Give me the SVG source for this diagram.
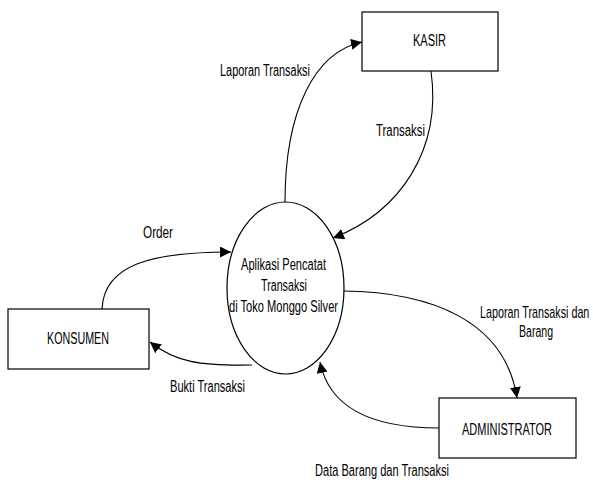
<svg xmlns="http://www.w3.org/2000/svg" width="593" height="480" viewBox="0 0 593 480">
<style>
.box{fill:#fff;stroke:#000;stroke-width:1.2}
.proc{fill:#fff;stroke:#000;stroke-width:1.2}
.flow{fill:none;stroke:#000;stroke-width:1.1;marker-end:url(#ah)}
text{font-family:"Liberation Sans",Arial,sans-serif;font-size:16px;fill:#000}
</style>
<defs>
<marker id="ah" viewBox="0 0 10 10" refX="10" refY="5" markerWidth="11" markerHeight="11" markerUnits="userSpaceOnUse" orient="auto">
<path d="M0,0 L10,5 L0,10 z" fill="#000"/>
</marker>
</defs>
<rect width="593" height="480" fill="#fff"/>
<g id="connectors">
<path class="flow" d="M285,202 C285,110 315,52 362,42"/>
<path class="flow" d="M431,71 C442,150 400,212 333,238"/>
<path class="flow" d="M102,309 C104,265 150,252 231,252"/>
<path class="flow" d="M252,365 C200,366 175,362 150,342"/>
<path class="flow" d="M343,291 C430,292 505,320 517,398"/>
<path class="flow" d="M439,428 C380,428 330,412 320,362"/>
<text x="220" y="76" textLength="90" lengthAdjust="spacingAndGlyphs">Laporan Transaksi</text>
<text x="376" y="136" textLength="49" lengthAdjust="spacingAndGlyphs">Transaksi</text>
<text x="143" y="238" textLength="30" lengthAdjust="spacingAndGlyphs">Order</text>
<text x="170" y="392" textLength="75" lengthAdjust="spacingAndGlyphs">Bukti Transaksi</text>
<text transform="translate(480,318) scale(0.672,1)">Laporan Transaksi dan</text>
<text x="519" y="337" textLength="34" lengthAdjust="spacingAndGlyphs">Barang</text>
<text x="315" y="476" textLength="134" lengthAdjust="spacingAndGlyphs">Data Barang dan Transaksi</text>
</g>
<g id="proses">
<ellipse class="proc" cx="285.5" cy="288" rx="58.5" ry="86"/>
<text x="241" y="270" textLength="85" lengthAdjust="spacingAndGlyphs">Aplikasi Pencatat</text>
<text x="261" y="291" textLength="46" lengthAdjust="spacingAndGlyphs">Transaksi</text>
<text x="229" y="312" textLength="109" lengthAdjust="spacingAndGlyphs">di Toko Monggo Silver</text>
</g>
<g id="kasir">
<rect class="box" x="362" y="12" width="136" height="59"/>
<text x="413" y="46" textLength="33" lengthAdjust="spacingAndGlyphs">KASIR</text>
</g>
<g id="konsumen">
<rect class="box" x="8" y="309" width="141" height="60"/>
<text x="47" y="344" textLength="62" lengthAdjust="spacingAndGlyphs">KONSUMEN</text>
</g>
<g id="administrator">
<rect class="box" x="439" y="398" width="137" height="60"/>
<text x="462" y="435" textLength="90" lengthAdjust="spacingAndGlyphs">ADMINISTRATOR</text>
</g>
</svg>
